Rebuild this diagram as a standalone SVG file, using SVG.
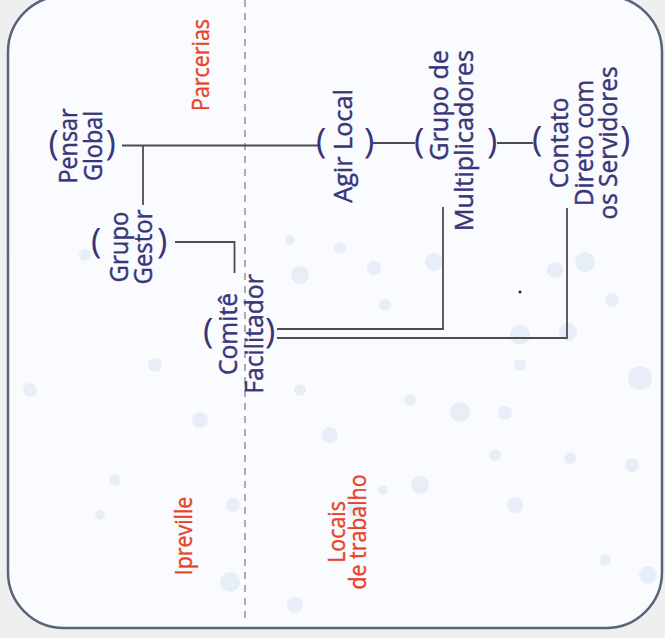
<svg xmlns="http://www.w3.org/2000/svg" width="665" height="638" viewBox="0 0 665 638">
<style>
.node{font-family:"Open Sans","Noto Sans",sans-serif;font-size:26px;fill:#383579;stroke:#383579;stroke-width:0.45;text-anchor:middle}
.par{font-family:"Open Sans","Noto Sans",sans-serif;font-size:35px;fill:#383579}
.lbl{font-family:"Open Sans","Noto Sans",sans-serif;font-size:23px;fill:#e8432a;stroke:#e8432a;stroke-width:0.4;text-anchor:middle}
.conn{fill:none;stroke:#4d4d4d;stroke-width:1.8}
.dot{fill:#e2e9f6;opacity:0.75}
</style>
<rect x="0" y="0" width="665" height="638" fill="#efefef"/>
<rect x="8" y="-4" width="654" height="632" rx="56" ry="56" fill="#f9fbfe" stroke="#56647c" stroke-width="2.5"/>
<g id="background">
<circle class="dot" cx="300" cy="275" r="9"/><circle class="dot" cx="340" cy="248" r="6"/>
<circle class="dot" cx="374" cy="268" r="7"/><circle class="dot" cx="434" cy="262" r="9"/>
<circle class="dot" cx="460" cy="412" r="10"/><circle class="dot" cx="505" cy="413" r="7"/>
<circle class="dot" cx="520" cy="365" r="6"/><circle class="dot" cx="555" cy="270" r="8"/>
<circle class="dot" cx="568" cy="332" r="9"/><circle class="dot" cx="585" cy="262" r="10"/>
<circle class="dot" cx="612" cy="300" r="7"/><circle class="dot" cx="640" cy="378" r="12"/>
<circle class="dot" cx="632" cy="465" r="7"/><circle class="dot" cx="648" cy="575" r="9"/>
<circle class="dot" cx="570" cy="458" r="6"/><circle class="dot" cx="515" cy="505" r="8"/>
<circle class="dot" cx="495" cy="455" r="6"/><circle class="dot" cx="420" cy="485" r="9"/>
<circle class="dot" cx="383" cy="490" r="5"/><circle class="dot" cx="355" cy="510" r="7"/>
<circle class="dot" cx="290" cy="240" r="5"/><circle class="dot" cx="330" cy="435" r="8"/>
<circle class="dot" cx="385" cy="305" r="6"/><circle class="dot" cx="115" cy="480" r="6"/>
<circle class="dot" cx="100" cy="515" r="5"/><circle class="dot" cx="230" cy="582" r="10"/>
<circle class="dot" cx="233" cy="505" r="7"/><circle class="dot" cx="295" cy="605" r="8"/>
<circle class="dot" cx="85" cy="255" r="6"/><circle class="dot" cx="30" cy="390" r="7"/>
<circle class="dot" cx="410" cy="400" r="6"/><circle class="dot" cx="520" cy="335" r="10"/>
<circle class="dot" cx="605" cy="560" r="6"/><circle class="dot" cx="300" cy="390" r="6"/>
<circle class="dot" cx="200" cy="420" r="8"/><circle class="dot" cx="155" cy="365" r="7"/>
<circle cx="520" cy="292" r="1.5" fill="#222"/>
</g>
<line x1="245" y1="0" x2="245" y2="622" stroke="#7a7a7a" stroke-width="1.2" stroke-dasharray="7 6"/>
<g id="connectors">
<path class="conn" d="M122 145.5 H318"/>
<path class="conn" d="M143 145.5 V205"/>
<path class="conn" d="M175 242 H234.5 V273"/>
<path class="conn" d="M373 143 H415"/>
<path class="conn" d="M497 143 H533"/>
<path class="conn" d="M277 329 H443 V207"/>
<path class="conn" d="M277 338 H567 V208"/>
</g>
<g id="pensar-global">
<text class="par" x="48.5" y="155">(</text><text class="par" x="105.5" y="155">)</text>
<text class="node" transform="translate(77,146) rotate(-90) scale(0.9,1)"><tspan x="0" y="0">Pensar</tspan><tspan x="0" dy="24.5">Global</tspan></text>
</g>
<g id="grupo-gestor">
<text class="par" x="91" y="252.5">(</text><text class="par" x="157" y="252.5">)</text>
<text class="node" transform="translate(128,247) rotate(-90) scale(0.92,1)"><tspan x="0" y="0">Grupo</tspan><tspan x="0" dy="24">Gestor</tspan></text>
</g>
<g id="comite-facilitador">
<text class="par" x="203" y="342.5">(</text><text class="par" x="265" y="342.5">)</text>
<text class="node" transform="translate(237,334) rotate(-90) scale(0.95,1)"><tspan x="0" y="0">Comitê</tspan><tspan x="0" dy="26">Facilitador</tspan></text>
</g>
<g id="agir-local">
<text class="par" x="316" y="152.5">(</text><text class="par" x="364" y="152.5">)</text>
<text class="node" transform="translate(352,146) rotate(-90) scale(0.97,1)">Agir Local</text>
</g>
<g id="grupo-multiplicadores">
<text class="par" x="414" y="152.5">(</text><text class="par" x="487" y="152.5">)</text>
<text class="node" style="text-anchor:end" transform="translate(448,50) rotate(-90) scale(0.97,1)"><tspan x="0" y="0">Grupo de</tspan><tspan x="0" dy="25">Multiplicadores</tspan></text>
</g>
<g id="contato-servidores">
<text class="par" x="532" y="150.5">(</text><text class="par" x="620" y="150.5">)</text>
<text class="node" transform="translate(568,143) rotate(-90) scale(0.94,1)"><tspan x="0" y="0">Contato</tspan><tspan x="0" dy="25">Direto com</tspan><tspan x="0" dy="24">os Servidores</tspan></text>
</g>
<g id="labels">
<text class="lbl" transform="translate(209,65) rotate(-90) scale(0.93,1)">Parcerias</text>
<text class="lbl" transform="translate(192,536) rotate(-90) scale(0.93,1)">Ipreville</text>
<text class="lbl" transform="translate(345,532) rotate(-90) scale(0.93,1)"><tspan x="0" y="0">Locais</tspan><tspan x="0" dy="20.5">de trabalho</tspan></text>
</g>
</svg>
